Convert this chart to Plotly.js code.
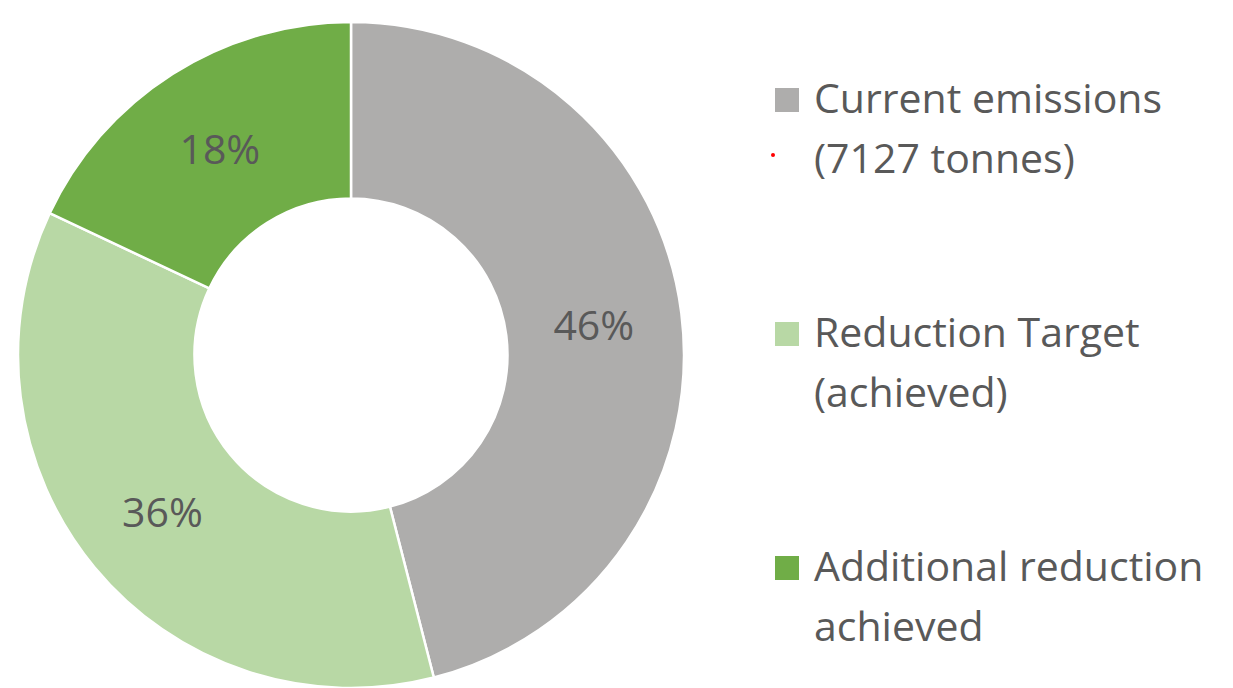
<!DOCTYPE html>
<html>
<head>
<meta charset="utf-8">
<script src="https://cdn.plot.ly/plotly-3.0.1.min.js"></script>
<style>html,body{margin:0;padding:0;background:#fff;}#chart{width:1233px;height:688px;}</style>
</head>
<body>
<div id="chart"></div>
<script>
const categories = [
  "Current emissions<br>(7127 tonnes)",
  "Reduction Target<br>(achieved)",
  "Additional reduction<br>achieved"
];
const shares = [46, 36, 18];
const sliceColors = ["#AEADAC", "#B8D8A5", "#70AD47"];

const FONT = "'Open Sans', 'Noto Sans', sans-serif";
const TEXT_COLOR = "#595959";
const W = 1233, H = 688;

const trace = {
  type: "pie",
  labels: categories,
  values: shares,
  sort: false,
  direction: "clockwise",
  rotation: 0,
  hole: 0.47,
  marker: { colors: sliceColors, line: { color: "#ffffff", width: 2.5 } },
  texttemplate: "%{value}%",
  textinfo: "text",
  textposition: "inside",
  insidetextorientation: "horizontal",
  textfont: { family: FONT, size: 41, color: TEXT_COLOR },
  domain: { x: [17 / W, 685 / W], y: [0, 0.968] },
  hoverinfo: "label+percent",
  showlegend: false
};

// Legend drawn beside the donut, built from the category names and slice colours
const px = (x) => x / W;
const py = (y) => 1 - y / H;
const legendTop = 88, legendStep = 234, squareSize = 24, squareLeft = 775;
const textLeft = 812, firstBaseline = 25, lineStep = 60, legendFontSize = 41;

const shapes = [];
const annotations = [];
categories.forEach((name, i) => {
  const top = legendTop + legendStep * i;
  shapes.push({
    type: "rect", xref: "paper", yref: "paper",
    x0: px(squareLeft), x1: px(squareLeft + squareSize),
    y0: py(top + squareSize), y1: py(top),
    fillcolor: sliceColors[i], line: { width: 0 }
  });
  name.split("<br>").forEach((line, j) => {
    const baseline = top + firstBaseline + lineStep * j;
    annotations.push({
      xref: "paper", yref: "paper",
      x: px(textLeft), xanchor: "left",
      y: py(baseline - 16), yanchor: "middle",
      text: line, showarrow: false,
      font: { family: FONT, size: legendFontSize, color: TEXT_COLOR }
    });
  });
});

// small red mark next to the first legend entry
shapes.push({ type: "circle", xref: "paper", yref: "paper",
  x0: px(771), x1: px(775), y0: py(157), y1: py(153),
  fillcolor: "#ff0000", line: { width: 0 } });

const layout = {
  width: W, height: H,
  margin: { l: 0, r: 0, t: 0, b: 0 },
  paper_bgcolor: "#ffffff",
  plot_bgcolor: "#ffffff",
  showlegend: false,
  shapes: shapes,
  annotations: annotations
};

Plotly.newPlot("chart", [trace], layout, { displayModeBar: false, staticPlot: true });
</script>
</body>
</html>
